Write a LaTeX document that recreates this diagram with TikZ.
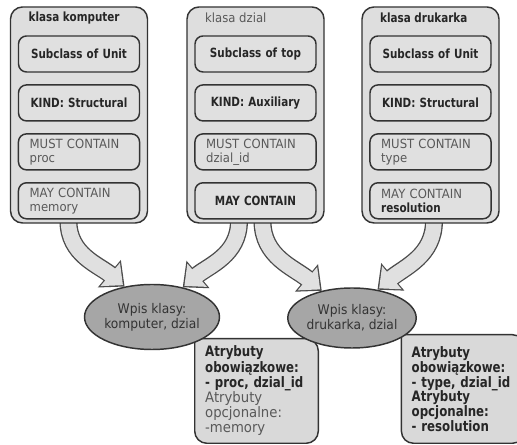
\documentclass[tikz,border=0pt]{standalone}
\usepackage{fontspec}
\setmainfont{DejaVu Sans}[FakeStretch=0.92, BoldFont=DejaVu Sans Bold, BoldFeatures={FakeStretch=0.82}]
\usetikzlibrary{positioning,arrows.meta,shapes.geometric,backgrounds}

\begin{document}
\begin{tikzpicture}[
  x=0.75pt, y=0.75pt, font=\fontsize{9.5}{10.5}\selectfont, node distance=8.6pt,
  klasa/.style={draw=black!80, line width=1.1pt, rounded corners=9pt, fill=black!13, minimum width=102.75pt, minimum height=162pt},
  tytul/.style={font=\fontsize{9.5}{10.5}\selectfont\bfseries, text=black!85, anchor=west, inner sep=0pt},
  pole/.style={draw=black!80, line width=1.1pt, rounded corners=6pt, fill=black!12, minimum width=90.75pt, minimum height=27pt, text width=84pt, inner xsep=3pt, inner ysep=0pt, align=center, text=black!85},
  polel/.style={pole, text width=74pt, inner xsep=8.4pt, align=left, text=black!65},
  bf/.style={font=\fontsize{9.5}{10.5}\selectfont\bfseries},
  wpis/.style={ellipse, draw=black!80, line width=1.1pt, fill=black!35, inner sep=0pt, align=center, text=black!80, font=\fontsize{10}{11}\selectfont},
  dymek/.style={minimum width=92.25pt, minimum height=78pt, text width=77pt, inner xsep=7.5pt, align=left, text=black!85, font=\fontsize{10.8}{11.4}\selectfont},
  ramka/.style={draw=black!80, line width=1.1pt, fill=black!15, rounded corners=9pt, line cap=rect},
  grubo/.style={line width=13.5pt, draw=black!70, -{Triangle[length=15pt, width=26pt]}},
  grubow/.style={line width=11.5pt, draw=black!12, shorten >=1.6pt, -{Triangle[length=12.5pt, width=22pt]}}]
  \useasboundingbox (0,0) rectangle (517,445);
  % klasy
  \node[klasa] (komp) at (79,330) {};
  \node[tytul] (kompT) at ([xshift=14pt,yshift=-9pt]komp.north west) {klasa komputer};
  \node[pole, bf, below=21.75pt of komp.north] (komp1) {Subclass of Unit};
  \node[pole, bf, below=of komp1] (komp2) {KIND: Structural};
  \node[polel, below=of komp2] (komp3) {MUST CONTAIN\\proc};
  \node[polel, below=of komp3] (komp4) {MAY CONTAIN\\memory};
  \node[klasa] (dzial) at (255.5,330) {};
  \node[tytul, font=\fontsize{9.5}{10.5}\selectfont, text=black!65] (dzialT) at ([xshift=14pt,yshift=-9pt]dzial.north west) {klasa dzial};
  \node[pole, bf, below=21.75pt of dzial.north] (dzial1) {Subclass of top};
  \node[pole, bf, below=of dzial1] (dzial2) {KIND: Auxiliary};
  \node[polel, below=of dzial2] (dzial3) {MUST CONTAIN\\dzial\_id};
  \node[pole, bf, below=of dzial3] (dzial4) {MAY CONTAIN};
  \node[klasa] (druk) at (430.5,330) {};
  \node[tytul] (drukT) at ([xshift=14pt,yshift=-9pt]druk.north west) {klasa drukarka};
  \node[pole, bf, below=21.75pt of druk.north] (druk1) {Subclass of Unit};
  \node[pole, bf, below=of druk1] (druk2) {KIND: Structural};
  \node[polel, below=of druk2] (druk3) {MUST CONTAIN\\type};
  \node[polel, below=of druk3] (druk4) {MAY CONTAIN\\\textcolor{black!85}{\bfseries resolution}};
  % wpisy
  \node[wpis, minimum width=82.5pt, minimum height=48.75pt] (wpisL) at (152,128) {Wpis klasy:\\komputer, dzial};
  \node[wpis, minimum width=81.75pt, minimum height=45pt] (wpisR) at (352,127) {Wpis klasy:\\drukarka, dzial};
  \node[dymek] (attrL) at (256.5,54) {\textbf{Atrybuty}\\\textbf{obowiązkowe:}\\\textbf{- proc, dzial\_id}\\\textcolor{black!65}{Atrybuty}\\\textcolor{black!65}{opcjonalne:}\\\textcolor{black!65}{-memory}};
  \node[dymek, minimum width=90pt, minimum height=81pt, font=\fontsize{10.8}{11}\selectfont\bfseries] (attrR) at (463,56) {Atrybuty\\obowiązkowe:\\- type, dzial\_id\\Atrybuty\\opcjonalne:\\- resolution};
  \coordinate (k1) at ([xshift=-7.9pt,yshift=2pt]komp.south);
  \coordinate (d1) at ([xshift=-12.4pt,yshift=2pt]dzial.south);
  \coordinate (d2) at ([xshift=5.25pt,yshift=2pt]dzial.south);
  \coordinate (r1) at ([xshift=2.6pt,yshift=2pt]druk.south);
  \begin{scope}[on background layer]
    \foreach \s/\t/\w in {k1/wpisL.132/140, d1/wpisL.44/40, d2/wpisR.138/140, r1/wpisR.48/40} {
      \draw[grubo] (\s) to[out=-90, in=\w] (\t);
      \draw[grubow] (\s) to[out=-90, in=\w] (\t);
    }
    \foreach \n in {attrL, attrR}
      \filldraw[ramka] (\n.north west) -- (\n.north east) -- (\n.south east) -- (\n.south west) -- (\n.north west);
  \end{scope}
\end{tikzpicture}
\end{document}
